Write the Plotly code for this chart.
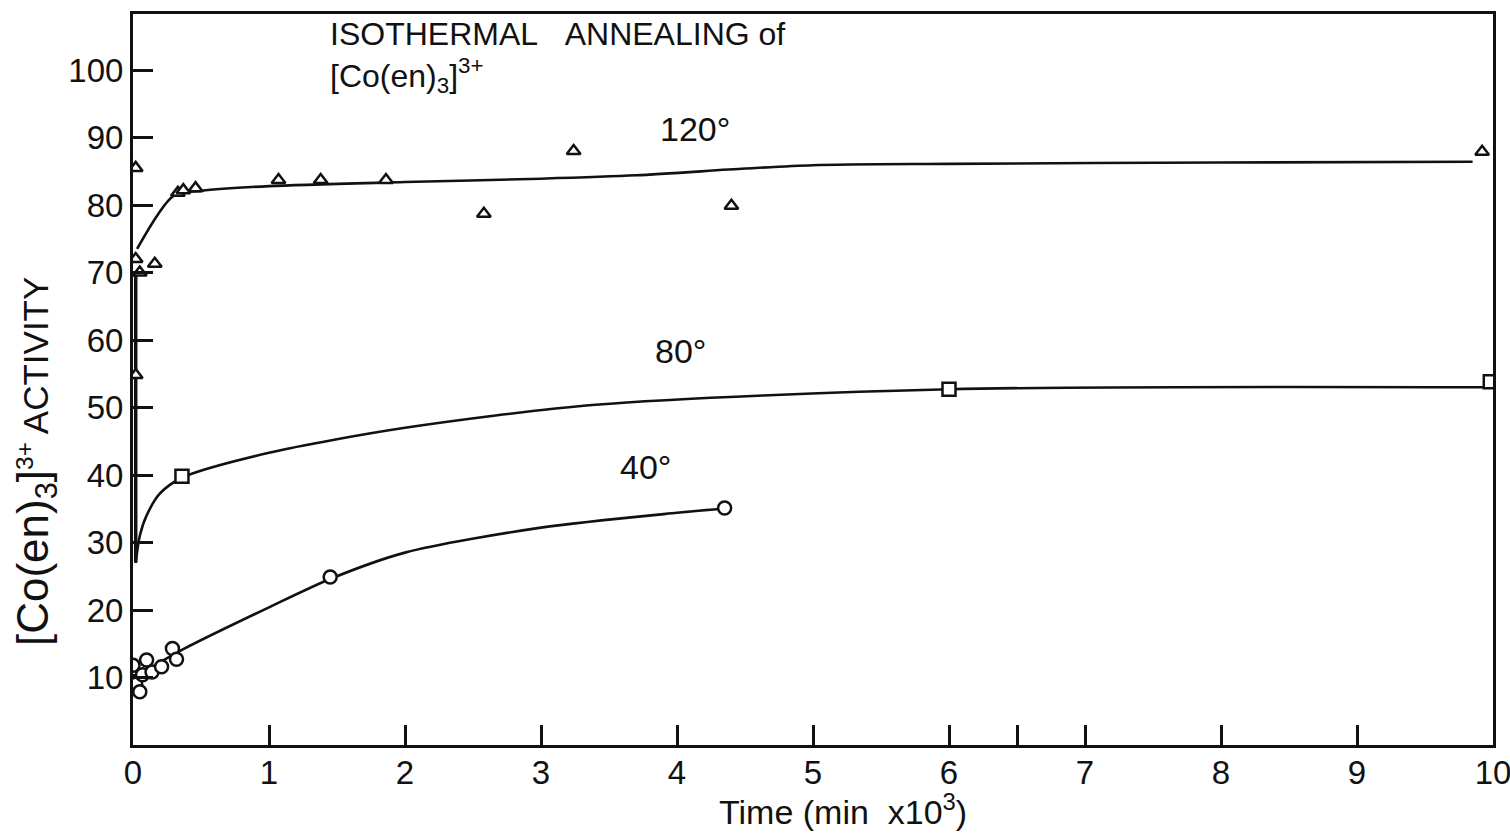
import plotly.graph_objects as go

# ---- data (time in min x 10^3, activity %) ----
t120 = [0.02, 0.02, 0.05, 0.16, 0.02, 0.33, 0.37, 0.46, 1.07, 1.38, 1.86, 2.58, 3.24, 4.40, 9.92]
a120 = [85.5, 72.0, 70.0, 71.3, 54.8, 81.8, 82.2, 82.5, 83.7, 83.7, 83.7, 78.7, 88.0, 79.9, 87.9]

t80 = [0.36, 6.0, 9.98]
a80 = [39.8, 52.7, 53.8]

t40 = [0.0, 0.0, 0.02, 0.05, 0.07, 0.10, 0.14, 0.21, 0.29, 0.32, 1.45, 4.35]
a40 = [11.8, 9.4, 9.0, 7.9, 10.4, 12.6, 10.8, 11.6, 14.3, 12.7, 24.9, 35.1]

# drawn trend curves
fit120_t = [0.03, 0.30, 0.50, 1.0, 2.0, 3.0, 3.7, 4.5, 5.0, 6.0, 8.0, 9.85]
fit120_a = [73.5, 81.4, 82.1, 82.8, 83.4, 83.9, 84.4, 85.4, 85.9, 86.1, 86.3, 86.4]

fit80_t = [0.02, 0.05, 0.10, 0.20, 0.36, 1.0, 2.0, 3.4, 6.0, 9.95]
fit80_a = [27.0, 31.0, 34.0, 37.3, 39.6, 43.3, 47.0, 50.4, 52.7, 53.0]

fit40_t = [0.02, 0.15, 0.37, 1.0, 1.45, 2.0, 3.0, 4.0, 4.33]
fit40_a = [9.5, 11.6, 14.2, 20.4, 24.6, 28.5, 32.2, 34.4, 35.0]

jump_t = [0.02, 0.02]
jump_a = [27.0, 70.0]

xtick_vals = [0, 1, 2, 3, 4, 5, 6, 6.5, 7, 8, 9, 10]
xtick_text = ["0", "1", "2", "3", "4", "5", "6", "", "7", "8", "9", "10"]
ytick_vals = [10, 20, 30, 40, 50, 60, 70, 80, 90, 100]

FONT = "Liberation Sans"
BLACK = "#111111"

fig = go.Figure()

line_style = dict(color=BLACK, width=2.6)
for ft, fa in [(fit120_t, fit120_a), (fit80_t, fit80_a), (fit40_t, fit40_a)]:
    fig.add_trace(go.Scatter(x=ft, y=fa, mode="lines", line=dict(shape="spline", smoothing=0.8, **line_style),
                             hoverinfo="skip", showlegend=False))
fig.add_trace(go.Scatter(x=jump_t, y=jump_a, mode="lines", line=dict(color=BLACK, width=3.5),
                         hoverinfo="skip", showlegend=False))

fig.add_trace(go.Scatter(x=t120, y=a120, mode="markers", name="120°",
                         marker=dict(symbol="triangle-up", size=12, color="white",
                                     line=dict(color=BLACK, width=2.5)), showlegend=False))
fig.add_trace(go.Scatter(x=t80, y=a80, mode="markers", name="80°",
                         marker=dict(symbol="square", size=13, color="white",
                                     line=dict(color=BLACK, width=2.5)), showlegend=False))
fig.add_trace(go.Scatter(x=t40, y=a40, mode="markers", name="40°",
                         marker=dict(symbol="circle", size=13, color="white",
                                     line=dict(color=BLACK, width=2.5)), showlegend=False))

axis_common = dict(showgrid=False, zeroline=False, showline=True, linecolor=BLACK, linewidth=3,
                   mirror=True, ticks="inside", ticklen=20, tickwidth=2.5, tickcolor=BLACK,
                   ticklabeloverflow="allow",
                   tickfont=dict(family=FONT, size=33, color=BLACK))

fig.update_xaxes(range=[0, 10], tickmode="array", tickvals=xtick_vals, ticktext=xtick_text,
                 ticklabelstandoff=-4, **axis_common)
fig.update_yaxes(range=[0, 108.3], tickmode="array", tickvals=ytick_vals, **axis_common)

W, H = 1510, 837
L, R, T, B = 133, 17, 14, 92
PW, PH = W - L - R, H - T - B


def px(xp):
    return (xp - L) / PW


def py(yp):
    return (H - B - yp) / PH


ann_font = dict(family=FONT, size=32, color=BLACK)
lbl_font = dict(family=FONT, size=34, color=BLACK)
annotations = [
    dict(x=px(328), y=py(14), xref="paper", yref="paper", xanchor="left", yanchor="top",
         align="left", showarrow=False, font=ann_font,
         text="ISOTHERMAL&nbsp;&nbsp;&nbsp;ANNEALING of<br>[Co(en)<sub>3</sub>]<sup>3+</sup>"),
    dict(x=px(695), y=py(129), xref="paper", yref="paper", xanchor="center", yanchor="middle",
         showarrow=False, font=lbl_font, text="120°"),
    dict(x=px(680), y=py(351), xref="paper", yref="paper", xanchor="center", yanchor="middle",
         showarrow=False, font=lbl_font, text="80°"),
    dict(x=px(645), y=py(467), xref="paper", yref="paper", xanchor="center", yanchor="middle",
         showarrow=False, font=lbl_font, text="40°"),
    dict(x=px(36), y=py(462), xref="paper", yref="paper", xanchor="center", yanchor="middle",
         textangle=-90, showarrow=False, font=dict(family=FONT, size=35, color=BLACK),
         text="<span style='font-size:44px'>[Co(en)<sub>3</sub>]</span><sup>3+</sup> ACTIVITY"),
    dict(x=px(843), y=py(809), xref="paper", yref="paper", xanchor="center", yanchor="middle",
         showarrow=False, font=lbl_font, text="Time (min  x10<sup>3</sup>)"),
]

fig.update_layout(width=W, height=H, margin=dict(l=L, r=R, t=T, b=B, autoexpand=False),
                  plot_bgcolor="white", paper_bgcolor="white", annotations=annotations,
                  font=dict(family=FONT, color=BLACK))

fig.write_html("out.html")
